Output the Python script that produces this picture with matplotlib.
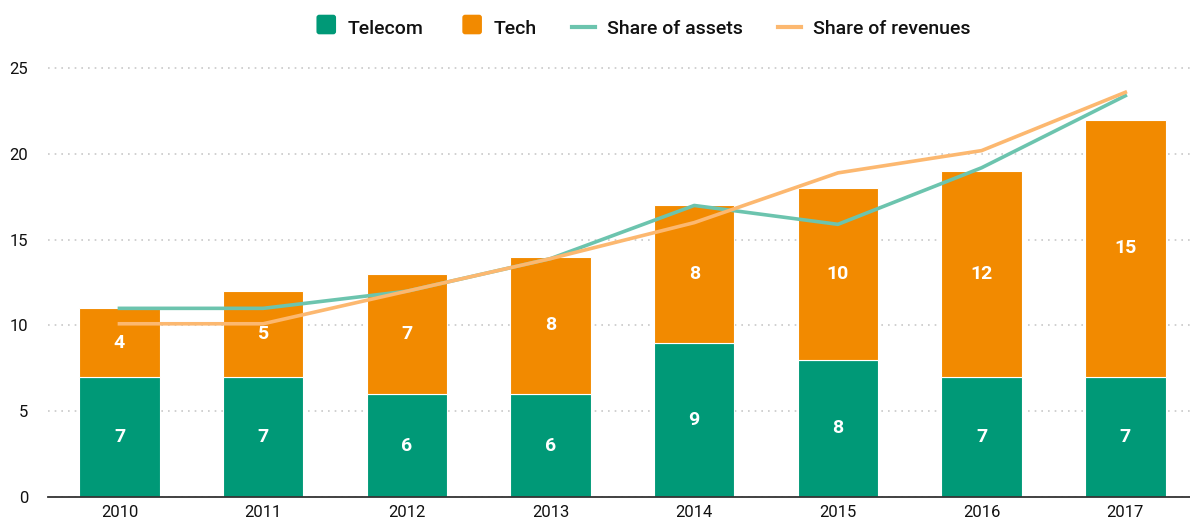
import matplotlib.pyplot as plt
from matplotlib.lines import Line2D
from matplotlib.patches import Patch, FancyBboxPatch
from matplotlib.legend_handler import HandlerPatch

plt.rcParams['font.family'] = ['Roboto', 'DejaVu Sans']

years = ['2010', '2011', '2012', '2013', '2014', '2015', '2016', '2017']
telecom = [7, 7, 6, 6, 9, 8, 7, 7]
tech = [4, 5, 7, 8, 8, 10, 12, 15]
share_assets = [11.0, 11.0, 12.0, 13.9, 17.0, 15.9, 19.2, 23.4]
share_revenues = [10.1, 10.1, 12.0, 13.9, 16.0, 18.9, 20.2, 23.6]

c_tel = '#009977'
c_tech = '#f28a00'
c_assets = '#6cc4ae'
c_rev = '#fcb870'


class RoundBox(HandlerPatch):
    def create_artists(self, legend, orig, xd, yd, width, height, fontsize, trans):
        s = min(width, height) * 1.05
        p = FancyBboxPatch((xd + width - s, yd + (height - s) / 2 - 1.5), s, s,
                           boxstyle='round,pad=0,rounding_size=2',
                           facecolor=orig.get_facecolor(), edgecolor='none',
                           transform=trans)
        return [p]


fig = plt.figure(figsize=(11.9, 5.22), dpi=100)
ax = fig.add_axes([0.040, 0.048, 0.960, 0.831])

x = list(range(len(years)))
w = 0.56
ax.bar(x, telecom, width=w, color=c_tel, edgecolor='white', linewidth=0.8, zorder=2)
ax.bar(x, tech, width=w, bottom=telecom, color=c_tech, edgecolor='white', linewidth=0.8, zorder=2)
ax.plot(x, share_assets, color=c_assets, linewidth=2.6, zorder=3)
ax.plot(x, share_revenues, color=c_rev, linewidth=2.6, zorder=3)

for i in x:
    ax.text(i, telecom[i] / 2, str(telecom[i]), ha='center', va='center',
            color='white', fontsize=14, fontweight='bold', zorder=4)
    ax.text(i, telecom[i] + tech[i] / 2, str(tech[i]), ha='center', va='center',
            color='white', fontsize=14, fontweight='bold', zorder=4)

ax.set_xlim(-0.5, 7.45)
ax.set_ylim(0, 25.3)
ax.set_yticks([0, 5, 10, 15, 20, 25])
ax.set_xticks(x)
ax.set_xticklabels(years)
ax.yaxis.grid(True, linestyle=(0, (1, 3)), color='#c8c8c8', linewidth=1.2, zorder=0)
ax.set_axisbelow(True)
for s in ['top', 'right', 'left']:
    ax.spines[s].set_visible(False)
ax.spines['bottom'].set_color('#333333')
ax.spines['bottom'].set_linewidth(1.3)
ax.tick_params(axis='both', length=0, labelsize=12, colors='#111111')
ax.tick_params(axis='x', pad=6)
ax.tick_params(axis='y', pad=14)

handles = [
    Patch(facecolor=c_tel, edgecolor='none', label='Telecom'),
    Patch(facecolor=c_tech, edgecolor='none', label='Tech'),
    Line2D([], [], color=c_assets, linewidth=3, label='Share of assets'),
    Line2D([], [], color=c_rev, linewidth=3, label='Share of revenues'),
]
leg = fig.legend(handles=handles, loc='upper center', bbox_to_anchor=(0.539, 0.998), ncol=4,
                 frameon=False, fontsize=14, handlelength=1.2, handleheight=1.1,
                 columnspacing=1.8, handletextpad=0.6,
                 handler_map={Patch: RoundBox()})
for t in leg.get_texts():
    t.set_fontweight('medium')
    t.set_color('#111111')

fig.savefig('out.png', dpi=100)
